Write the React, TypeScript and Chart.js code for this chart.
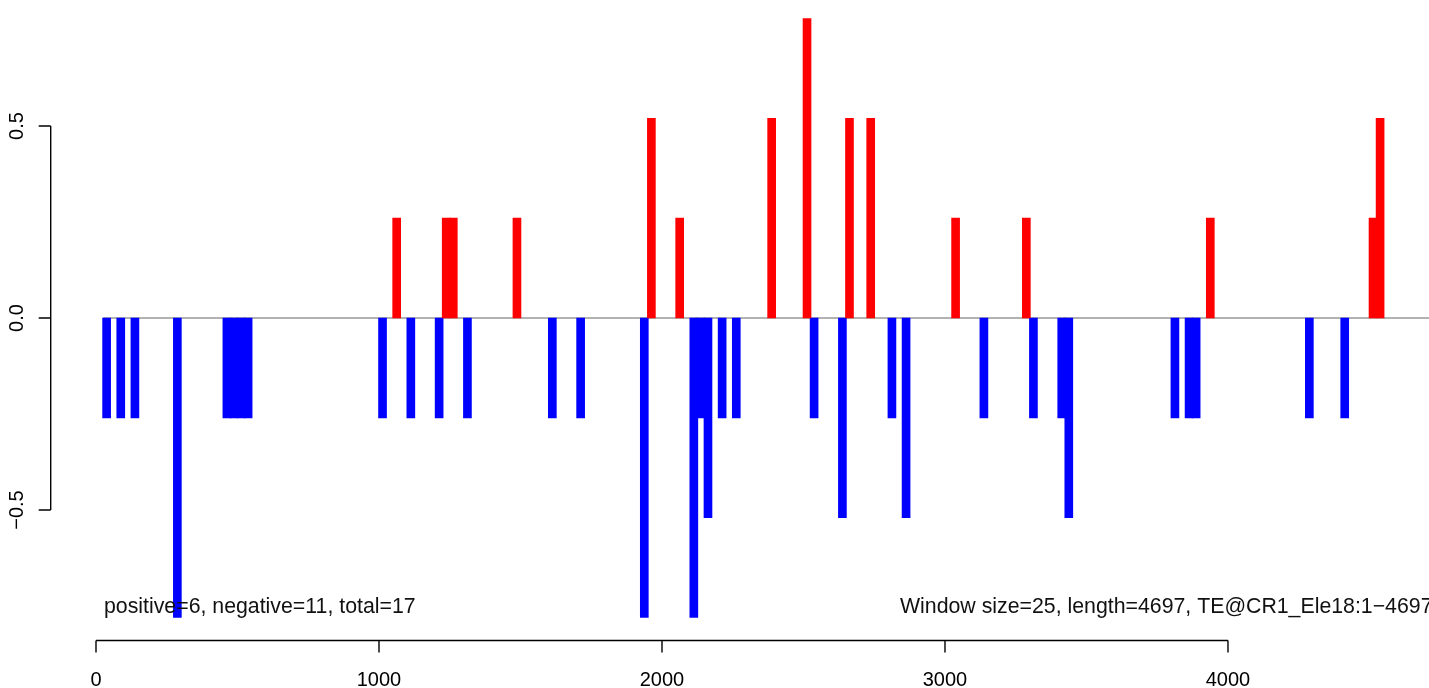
import React, { useEffect, useRef } from "react";
import { Chart, registerables } from "chart.js";

Chart.register(...registerables);

// Window centres (bp) and scores
const posX = [1062.5, 1237.5, 1262.5, 1487.5, 1962.5, 2062.5, 2387.5, 2512.5, 2662.5, 2737.5, 3037.5, 3287.5, 3937.5, 4512.5, 4537.5];
const posY = [0.26, 0.26, 0.26, 0.26, 0.52, 0.26, 0.52, 0.78, 0.52, 0.52, 0.26, 0.26, 0.26, 0.26, 0.52];

const negX = [37.5, 87.5, 137.5, 287.5, 462.5, 487.5, 512.5, 537.5, 1012.5, 1112.5, 1212.5, 1312.5, 1612.5, 1712.5, 1937.5, 2112.5, 2137.5, 2162.5, 2212.5, 2262.5, 2537.5, 2637.5, 2812.5, 2862.5, 3137.5, 3312.5, 3412.5, 3437.5, 3812.5, 3862.5, 3887.5, 4287.5, 4412.5];
const negY = [-0.26, -0.26, -0.26, -0.78, -0.26, -0.26, -0.26, -0.26, -0.26, -0.26, -0.26, -0.26, -0.26, -0.26, -0.78, -0.78, -0.26, -0.52, -0.26, -0.26, -0.26, -0.52, -0.26, -0.52, -0.26, -0.26, -0.26, -0.52, -0.26, -0.26, -0.26, -0.26, -0.26];

const xTicks = [0, 1000, 2000, 3000, 4000];
const yTicks = [-0.5, 0, 0.5];
const yTickLabels = ["\u22120.5", "0.0", "0.5"];
const zeroLineRange = [25, 4697];
const leftNote = "positive=6, negative=11, total=17";
const rightNote = "Window size=25, length=4697, TE@CR1_Ele18:1\u22124697";

const FONT = "'Liberation Sans', Arial, Helvetica, sans-serif";

const rAxesPlugin = {
  id: "rAxes",
  beforeDatasetsDraw(chart: any) {
    const { ctx, chartArea, scales } = chart;
    const xs = scales.x;
    const ys = scales.y;
    const y0 = ys.getPixelForValue(0);
    ctx.save();
    ctx.strokeStyle = "#999999";
    ctx.lineWidth = 1.3;
    ctx.beginPath();
    ctx.moveTo(xs.getPixelForValue(zeroLineRange[0]), y0);
    ctx.lineTo(Math.max(chartArea.right, xs.getPixelForValue(zeroLineRange[1])), y0);
    ctx.stroke();
    ctx.restore();
  },
  afterDraw(chart: any) {
    const { ctx, chartArea, scales } = chart;
    const xs = scales.x;
    const ys = scales.y;
    ctx.save();
    ctx.strokeStyle = "#000";
    ctx.fillStyle = "#000";
    ctx.lineWidth = 1.4;
    // x axis
    const ax = chartArea.bottom - 0.5;
    ctx.beginPath();
    ctx.moveTo(xs.getPixelForValue(xTicks[0]), ax);
    ctx.lineTo(xs.getPixelForValue(xTicks[xTicks.length - 1]), ax);
    xTicks.forEach((t) => {
      const px = xs.getPixelForValue(t);
      ctx.moveTo(px, ax);
      ctx.lineTo(px, ax + 12);
    });
    ctx.stroke();
    ctx.font = `20px ${FONT}`;
    ctx.textAlign = "center";
    ctx.textBaseline = "alphabetic";
    xTicks.forEach((t) => {
      ctx.fillText(String(t), xs.getPixelForValue(t), 685.5);
    });
    // y axis
    const ay = chartArea.left - 0.3;
    ctx.beginPath();
    ctx.moveTo(ay, ys.getPixelForValue(yTicks[0]));
    ctx.lineTo(ay, ys.getPixelForValue(yTicks[yTicks.length - 1]));
    yTicks.forEach((t) => {
      const py = ys.getPixelForValue(t);
      ctx.moveTo(ay, py);
      ctx.lineTo(ay - 12, py);
    });
    ctx.stroke();
    yTicks.forEach((t, i) => {
      const py = ys.getPixelForValue(t);
      ctx.save();
      ctx.translate(22.5, py);
      ctx.rotate(-Math.PI / 2);
      ctx.textAlign = "center";
      ctx.textBaseline = "alphabetic";
      ctx.fillText(yTickLabels[i], 0, 0);
      ctx.restore();
    });
    // notes
    ctx.font = `21.3px ${FONT}`;
    ctx.textAlign = "left";
    ctx.fillStyle = "#111";
    ctx.fillText(leftNote, 104, 613);
    ctx.fillText(rightNote, 900, 613);
    ctx.restore();
  },
};

export default function App() {
  const ref = useRef<HTMLCanvasElement | null>(null);
  useEffect(() => {
    if (!ref.current) return;
    const chart = new Chart(ref.current, {
      type: "bar",
      data: {
        datasets: [
          {
            label: "positive",
            data: posX.map((x, i) => ({ x, y: posY[i] })),
            backgroundColor: "#FF0000",
            barThickness: 8,
            grouped: false,
            borderWidth: 0,
          } as any,
          {
            label: "negative",
            data: negX.map((x, i) => ({ x, y: negY[i] })),
            backgroundColor: "#0000FF",
            barThickness: 8,
            grouped: false,
            borderWidth: 0,
          } as any,
        ],
      },
      options: {
        animation: false,
        responsive: false,
        maintainAspectRatio: false,
        events: [],
        layout: { padding: { left: 51, right: 0, top: 0, bottom: 47 } },
        plugins: {
          legend: { display: false },
          tooltip: { enabled: false },
          title: { display: false },
        },
        scales: {
          x: {
            type: "linear",
            display: false,
            offset: false,
            min: -159.01,
            max: 4710.3,
          },
          y: {
            type: "linear",
            display: false,
            min: -0.841146,
            max: 0.828125,
          },
        },
      },
      plugins: [rAxesPlugin],
    });
    return () => chart.destroy();
  }, []);
  return (
    <div style={{ position: "absolute", left: 0, top: 0, width: 1429, height: 688, background: "#fff" }}>
      <canvas ref={ref} width={1429} height={688} style={{ display: "block" }} />
    </div>
  );
}
